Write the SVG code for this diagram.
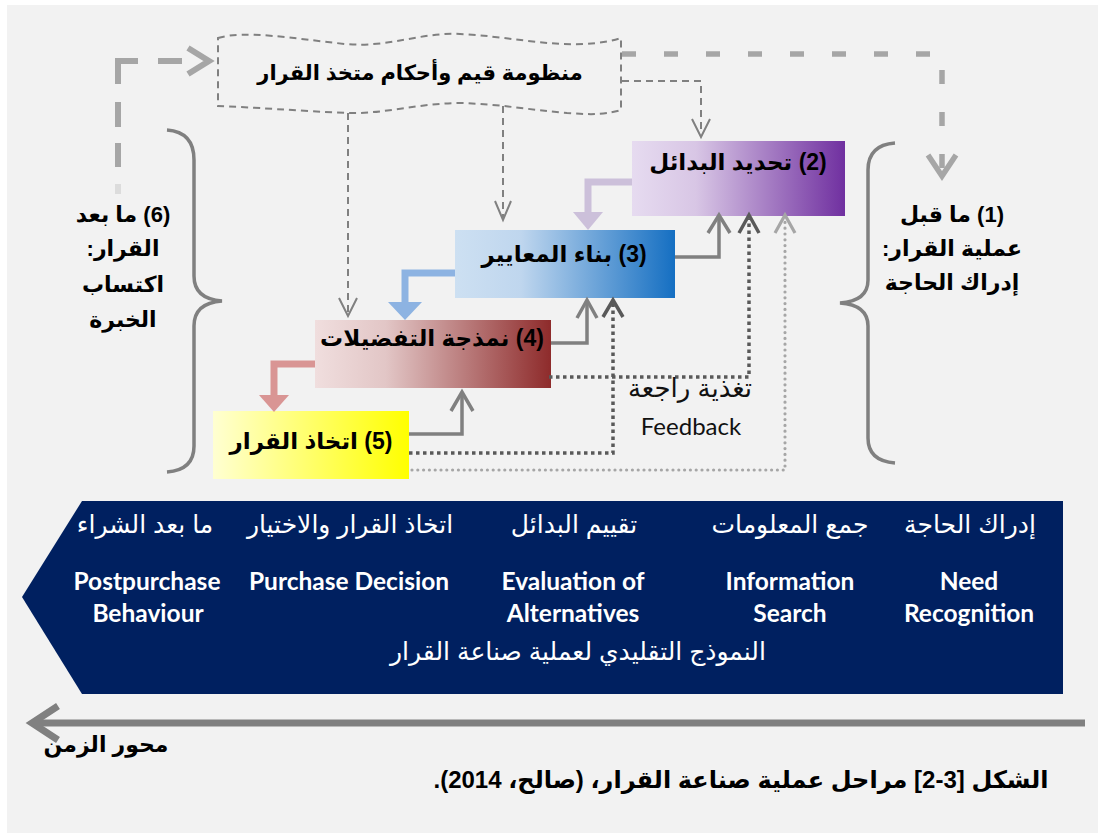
<svg xmlns="http://www.w3.org/2000/svg" width="1101" height="837" viewBox="0 0 1101 837">
<defs>
<style>
.ar{font-family:"Liberation Sans","DejaVu Sans",sans-serif;direction:rtl;text-anchor:middle}
.b{font-weight:bold}
.en{font-family:Lato,"Open Sans",sans-serif;font-weight:bold;fill:#fff;text-anchor:middle;font-size:24.5px}
.bw{fill:#fff;font-size:25px}
.thin{fill:none;stroke:#808080;stroke-width:2;stroke-dasharray:7 5}
.head{fill:none;stroke:#808080;stroke-width:2}
.solid{fill:none;stroke:#808080;stroke-width:3.5}
.sq{fill:none;stroke:#595959;stroke-width:3.5;stroke-dasharray:3.5 3.5}
.rd{fill:none;stroke:#a6a6a6;stroke-width:3.2;stroke-dasharray:0 5.8;stroke-linecap:round}
.rdh{fill:none;stroke:#a6a6a6;stroke-width:3.2}
.dkh{fill:none;stroke:#595959;stroke-width:3.5}
.thick{fill:none;stroke:#a6a6a6;stroke-width:6}
.brace{fill:none;stroke:#808080;stroke-width:3.5}
</style>
<linearGradient id="g2" x1="0" y1="0" x2="1" y2="0"><stop offset="0" stop-color="#e6dbf0"/><stop offset="0.3" stop-color="#d8c6e5"/><stop offset="1" stop-color="#7030a0"/></linearGradient>
<linearGradient id="g3" x1="0" y1="0" x2="1" y2="0"><stop offset="0" stop-color="#cde0f2"/><stop offset="0.3" stop-color="#bfd6ee"/><stop offset="1" stop-color="#156fc2"/></linearGradient>
<linearGradient id="g4" x1="0" y1="0" x2="1" y2="0"><stop offset="0" stop-color="#f0dede"/><stop offset="0.3" stop-color="#e2c6c6"/><stop offset="1" stop-color="#8e2b2b"/></linearGradient>
<linearGradient id="g5" x1="0" y1="0" x2="1" y2="0"><stop offset="0" stop-color="#ffffd2"/><stop offset="1" stop-color="#ffff00"/></linearGradient>
</defs>
<rect x="0" y="0" width="1101" height="837" fill="#ffffff"/>
<rect x="7" y="5" width="1091" height="828" fill="#f2f2f2"/>

<g id="cloud">
<path d="M218,38 C245,30 290,38 345,44 C390,48 420,32 460,34 C505,36 545,46 585,44 C600,43 612,41 621,38 L621,110 C600,116 585,114 567,113 C530,110 500,104 460,103 C420,103 385,114 348,113 C300,111 250,107 218,106 Z" fill="none" stroke="#808080" stroke-width="2" stroke-dasharray="7 5"/>
<text class="ar b" x="420" y="80" font-size="21">منظومة قيم وأحكام متخذ القرار</text>
</g>

<g id="box2">
<rect x="632" y="141" width="213" height="75" fill="url(#g2)"/>
<text class="ar b" x="738" y="170" font-size="23">(2) تحديد البدائل</text>
</g>
<g id="box3">
<rect x="455" y="230" width="220" height="68" fill="url(#g3)"/>
<text class="ar b" x="564" y="262" font-size="23">(3) بناء المعايير</text>
</g>
<g id="box4">
<rect x="315" y="320" width="236" height="68" fill="url(#g4)"/>
<text class="ar b" x="432" y="346" font-size="23">(4) نمذجة التفضيلات</text>
</g>
<g id="box5">
<rect x="213" y="411" width="196" height="68" fill="url(#g5)"/>
<text class="ar b" x="311" y="449" font-size="23">(5) اتخاذ القرار</text>
</g>

<g id="connectors">
<line x1="158" y1="61" x2="182" y2="61" class="thick"/>
<path d="M138,61 L118,61 L118,84" class="thick"/>
<line x1="118" y1="102" x2="118" y2="127" class="thick"/>
<line x1="118" y1="143" x2="118" y2="167" class="thick"/>
<line x1="118" y1="184" x2="118" y2="194" stroke="#dcdcdc" stroke-width="6"/>
<path d="M188,48 L209,61 L188,74" class="thick"/>
<path d="M622,54 L942,54 L942,177" fill="none" stroke="#a6a6a6" stroke-width="5.5" stroke-dasharray="14 28"/>
<path d="M928,155 L942,176 L956,155" fill="none" stroke="#a6a6a6" stroke-width="5.5"/>
<path d="M622,81 L701,81 L701,134" class="thin"/>
<path d="M692,119 L701,137 L710,119" class="head"/>
<path d="M348,113 L348,312" class="thin"/>
<path d="M339,298 L348,316 L357,298" class="head"/>
<path d="M503,106 L503,217" class="thin"/>
<path d="M495,201 L503,220 L511,201" class="head"/>
<path d="M632,182 L588,182 L588,213" fill="none" stroke="#ccc0da" stroke-width="7"/>
<polygon points="573,212 603,212 588,230" fill="#ccc0da"/>
<path d="M455,273 L405,273 L405,304" fill="none" stroke="#8db3e2" stroke-width="7"/>
<polygon points="388,302 422,302 405,320" fill="#8db3e2"/>
<path d="M315,364 L274,364 L274,396" fill="none" stroke="#d99594" stroke-width="7"/>
<polygon points="259,395 289,395 274,412" fill="#d99594"/>
<path d="M409,434 L462,434 L462,392" class="solid"/>
<path d="M451,411 L462,392 L473,411" class="solid"/>
<path d="M551,343 L587,343 L587,301" class="solid"/>
<path d="M577,318 L587,300 L597,318" class="solid"/>
<path d="M675,257 L719,257 L719,217" class="solid"/>
<path d="M708,233 L719,215 L730,233" class="solid"/>
<path d="M409,453 L613,453 L613,302" class="sq"/>
<path d="M603,317 L613,300 L623,317" class="dkh"/>
<path d="M549,377 L749,377 L749,219" class="sq"/>
<path d="M739,233 L749,215 L759,233" class="dkh"/>
<path d="M412,470 L785,470 L785,220" class="rd"/>
<path d="M775,233 L785,215 L795,233" class="rdh"/>
</g>

<g id="feedback">
<text class="ar" x="690" y="397" font-size="26" fill="#111">تغذية راجعة</text>
<text x="691" y="435" font-family="Lato,'Open Sans',sans-serif" font-size="24" text-anchor="middle" fill="#111">Feedback</text>
</g>

<g id="brace-left">
<path d="M167,130 Q194,132 194,160 L194,276 Q194,299 222,301 Q194,303 194,326 L194,446 Q194,470 167,472" class="brace"/>
<text class="ar b" font-size="22" x="123" y="222">(6) ما بعد</text>
<text class="ar b" font-size="22" x="123" y="256">القرار:</text>
<text class="ar b" font-size="22" x="123" y="292">اكتساب</text>
<text class="ar b" font-size="22" x="123" y="327">الخبرة</text>
</g>
<g id="brace-right">
<path d="M895,143 Q868,145 868,170 L868,280 Q868,301 840,303 Q868,305 868,326 L868,438 Q868,461 895,463" class="brace"/>
<text class="ar b" font-size="22" x="952" y="222">(1) ما قبل</text>
<text class="ar b" font-size="22" x="952" y="256">عملية القرار:</text>
<text class="ar b" font-size="22" x="952" y="290">إدراك الحاجة</text>
</g>

<g id="banner">
<polygon points="82,501 1063,501 1063,694 82,694 22,597" fill="#002060"/>
<text class="ar bw" x="970" y="533">إدراك الحاجة</text>
<text class="ar bw" x="790" y="533">جمع المعلومات</text>
<text class="ar bw" x="574" y="533">تقييم البدائل</text>
<text class="ar bw" x="350" y="533">اتخاذ القرار والاختيار</text>
<text class="ar bw" x="145" y="533">ما بعد الشراء</text>
<text class="en" x="969" y="590">Need</text>
<text class="en" x="969" y="622">Recognition</text>
<text class="en" x="790" y="590">Information</text>
<text class="en" x="790" y="622">Search</text>
<text class="en" x="573" y="590">Evaluation of</text>
<text class="en" x="573" y="622">Alternatives</text>
<text class="en" x="349" y="590">Purchase Decision</text>
<text class="en" x="147" y="590">Postpurchase</text>
<text class="en" x="148" y="622">Behaviour</text>
<text class="ar bw" x="578" y="660" font-size="27">النموذج التقليدي لعملية صناعة القرار</text>
</g>

<g id="time-axis">
<line x1="1085" y1="723" x2="32" y2="723" stroke="#808080" stroke-width="7"/>
<path d="M58,706 L32,723 L58,740" fill="none" stroke="#808080" stroke-width="7"/>
<text class="ar b" x="106" y="752" font-size="22">محور الزمن</text>
</g>

<g id="caption">
<text class="ar b" x="741" y="788" font-size="24">الشكل [3-2] مراحل عملية صناعة القرار، (صالح، 2014).</text>
</g>
</svg>
